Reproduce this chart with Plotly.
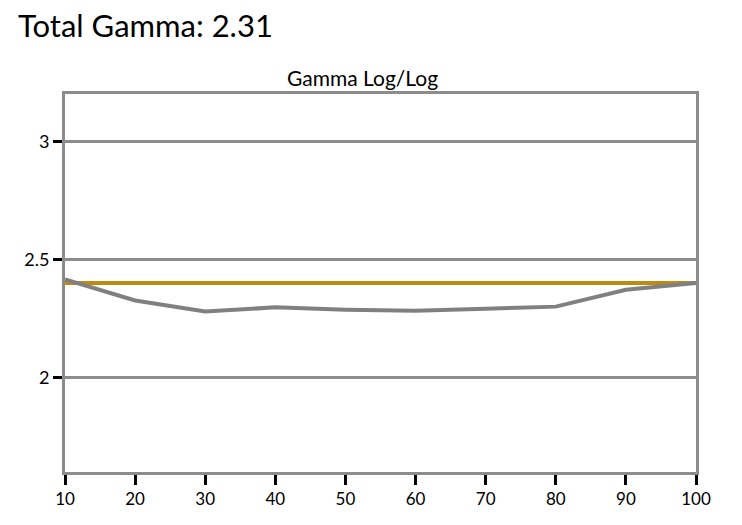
import plotly.graph_objects as go

# 数据
levels = [10, 20, 30, 40, 50, 60, 70, 80, 90, 100]
gamma_measured = [2.415, 2.326, 2.279, 2.297, 2.287, 2.283, 2.291, 2.300, 2.371, 2.40]
gamma_target = [2.40, 2.40, 2.40, 2.40, 2.40, 2.40, 2.40, 2.40, 2.40, 2.40]
y_ticks = [2, 2.5, 3]
y_tick_labels = ["2", "2.5", "3"]

title_text = "Total Gamma: 2.31"
subtitle_text = "Gamma Log/Log"

font_family = "Lato, Open Sans, sans-serif"
frame_grey = "#8c8c8c"

fig = go.Figure()

fig.add_trace(go.Scatter(x=levels, y=gamma_target, mode="lines",
                         line=dict(color="#bf8a10", width=4), hoverinfo="skip"))
fig.add_trace(go.Scatter(x=levels, y=gamma_measured, mode="lines",
                         line=dict(color="#808080", width=4)))

fig.update_layout(
    width=742, height=525,
    margin=dict(l=65, r=46, t=94, b=53),
    paper_bgcolor="white", plot_bgcolor="white",
    showlegend=False,
    font=dict(family=font_family, color="black", size=17),
    title=dict(text=title_text, xref="container", yref="container",
               x=18 / 742, y=1 - 26 / 525, xanchor="left", yanchor="middle",
               font=dict(size=31, family=font_family, color="black")),
    xaxis=dict(range=[10, 100], tickvals=levels, ticks="outside", ticklen=10,
               tickwidth=2.5, tickcolor="black", showgrid=False,
               showline=True, linecolor=frame_grey, linewidth=3, mirror=True,
               zeroline=False, tickfont=dict(size=17)),
    yaxis=dict(range=[1.6, 3.2], tickvals=y_ticks, ticktext=y_tick_labels,
               ticks="outside", ticklen=9, tickwidth=2.5, tickcolor="black",
               showgrid=True, gridcolor=frame_grey, gridwidth=2.5,
               showline=True, linecolor=frame_grey, linewidth=3, mirror=True,
               zeroline=False, tickfont=dict(size=18)),
    annotations=[
        dict(text=subtitle_text, xref="paper", yref="paper",
             x=(362 - 65) / 631, y=1, yshift=2, xanchor="center", yanchor="bottom",
             showarrow=False, font=dict(size=21, family=font_family)),
    ],
)

# 去掉页面默认的 8px 边距，也不要工具栏
fig.write_html("out.html", config={"displayModeBar": False},
               post_script="document.body.style.margin='0';")
